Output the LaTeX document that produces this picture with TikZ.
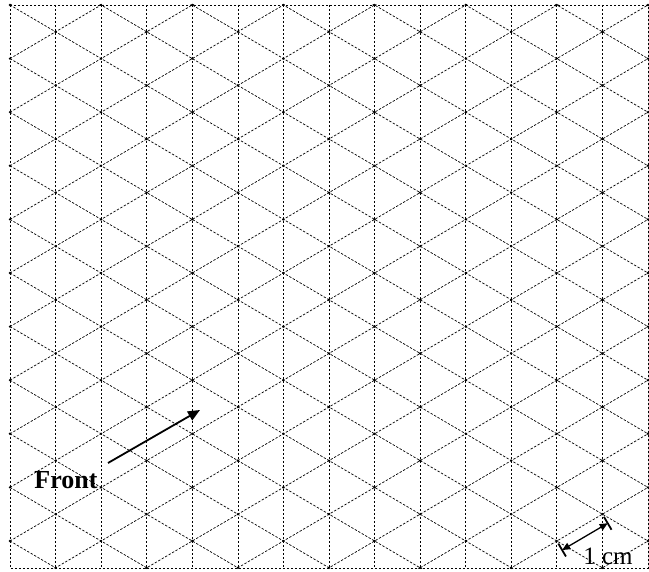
\documentclass[tikz,border=0pt]{standalone}
\usepackage{fontspec}
\setmainfont{Liberation Serif}
\usetikzlibrary{arrows.meta,calc}
\begin{document}
\begin{tikzpicture}[x=1pt,y=-1pt]
\useasboundingbox (0,0) rectangle (649,572);
\def\gx{45.57}\def\gy{53.6}
\tikzset{
  gridline/.style={dash pattern=on 2.4pt off 1.6pt, line width=0.7pt, black},
  griddot/.style={fill=black},
  thickline/.style={line width=1.8pt, black},
  lbl/.style={inner sep=0pt, anchor=base, font=\fontsize{25}{28}\selectfont}
}
\begin{scope}
\clip (10,5) rectangle (648,568);
\foreach \i in {0,...,14} \draw[gridline] ({10+\gx*\i},5) -- ({10+\gx*\i},568);
\foreach \m in {-8,...,11} \draw[gridline] (10,{5+\gy*\m}) -- (648,{5+\gy*\m+\gy/2*14});
\foreach \m in {0,...,19} \draw[gridline] (10,{5+\gy*\m}) -- (648,{5+\gy*\m-\gy/2*14});
\end{scope}
\draw[gridline] (10,5) rectangle (648,568);
\foreach \i in {0,...,14} {
  \foreach \k in {0,...,10} {
    \pgfmathsetmacro\yy{5+\gy/2*mod(\i,2)+\gy*\k}
    \ifdim\yy pt<570pt
      \fill[griddot] ({10+\gx*\i},\yy) circle (1.3pt);
    \fi
  }
}
% Front arrow
\node[lbl, font=\bfseries\fontsize{26}{30}\selectfont] (front) at (66,489) {Front};
\coordinate (fa) at (108,463);
\coordinate (fb) at (200,410);
\draw[thickline, -{Triangle[length=12pt,width=10pt]}] (fa) -- (fb);
% 1 cm marker
\coordinate (A) at ({10+\gx*12},{5+\gy*10});
\coordinate (B) at ({10+\gx*13},{5+\gy/2+\gy*9});
\coordinate (A1) at ($(A)+(1.5,2.6)$);
\coordinate (A2) at ($(A)+(9.1,15.5)$);
\coordinate (B1) at ($(B)+(1.5,2.6)$);
\coordinate (B2) at ($(B)+(9.1,15.5)$);
\draw[thickline] (A1) -- (A2);
\draw[thickline] (B1) -- (B2);
\coordinate (Am) at ($(A1)!0.5!(A2)$);
\coordinate (Bm) at ($(B1)!0.5!(B2)$);
\draw[line width=1.3pt, {Triangle[length=8pt,width=7pt]}-{Triangle[length=8pt,width=7pt]}] (Am) -- (Bm);
\node[lbl] (cm) at (608,565) {1 cm};
\end{tikzpicture}
\end{document}
